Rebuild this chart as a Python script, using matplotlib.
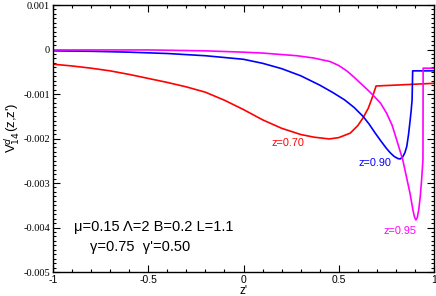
import matplotlib
matplotlib.use("Agg")
import matplotlib.pyplot as plt
from matplotlib.ticker import MultipleLocator, FuncFormatter

# z = 0.70 (red)
x_red = [-1.0, -0.9, -0.8, -0.7, -0.6, -0.5, -0.4, -0.3, -0.2, -0.1, 0.0, 0.1, 0.2, 0.3, 0.37, 0.45, 0.5,
         0.56, 0.6, 0.627, 0.655, 0.675, 0.696, 0.8, 0.9, 1.0]
y_red = [-0.00033, -0.00037, -0.00042, -0.00048, -0.00056, -0.00065, -0.00074, -0.00084, -0.00096, -0.00114,
         -0.00135, -0.00158, -0.00177, -0.00191, -0.00197, -0.00201, -0.00198, -0.00188, -0.00171, -0.00154,
         -0.00132, -0.00109, -0.00082, -0.0008, -0.00078, -0.00076]

# z = 0.90 (blue)
x_blue = [-1.0, -0.8, -0.6, -0.4, -0.2, 0.0, 0.1, 0.2, 0.3, 0.4, 0.47, 0.53, 0.58, 0.627, 0.66, 0.69, 0.72,
          0.75, 0.77, 0.79, 0.81, 0.822, 0.835, 0.847, 0.857, 0.866, 0.874, 0.88, 0.885, 0.888, 1.0]
y_blue = [-0.00003, -0.00004, -0.00006, -0.00009, -0.00014, -0.00022, -0.00031, -0.00043, -0.00059, -0.0008,
          -0.00097, -0.00113, -0.0013, -0.0015, -0.00168, -0.00187, -0.00205, -0.00222, -0.00232, -0.0024,
          -0.00245, -0.00246, -0.00242, -0.00232, -0.00218, -0.00192, -0.00162, -0.00138, -0.00113, -0.00048,
          -0.00048]

# z = 0.95 (magenta)
x_mag = [-1.0, -0.5, -0.2, 0.0, 0.1, 0.19, 0.28, 0.367, 0.454, 0.5, 0.542, 0.58, 0.612, 0.65, 0.681, 0.72,
         0.751, 0.78, 0.804, 0.836, 0.874, 0.89, 0.898, 0.905, 0.912, 0.92, 0.928, 0.935, 0.942, 0.943, 1.0]
y_mag = [-0.00001, -0.00001, -0.00003, -0.00006, -0.00008, -0.00011, -0.00014, -0.00019, -0.00027, -0.00036,
         -0.00048, -0.00062, -0.00075, -0.0009, -0.00103, -0.00121, -0.00143, -0.0017, -0.00203, -0.00248,
         -0.00323, -0.00362, -0.00377, -0.00383, -0.00378, -0.0036, -0.0033, -0.00293, -0.00248, -0.00042,
         -0.00042]

x_ticks = [-1, -0.5, 0, 0.5, 1]
y_ticks = [0.001, 0, -0.001, -0.002, -0.003, -0.004, -0.005]

fig = plt.figure(figsize=(4.36, 2.96), dpi=100)
ax = fig.add_axes([53/436, 1 - 272/296, (434-53)/436, (272-5)/296])

ax.plot(x_red, y_red, color="#ff0000", lw=1.2)
ax.plot(x_blue, y_blue, color="#0000ff", lw=1.2)
ax.plot(x_mag, y_mag, color="#ff00ff", lw=1.2)

ax.set_xlim(-1, 1)
ax.set_ylim(-0.005, 0.001)
ax.set_xticks(x_ticks)
ax.set_yticks(y_ticks)
ax.xaxis.set_minor_locator(MultipleLocator(0.1))
ax.yaxis.set_minor_locator(MultipleLocator(0.0001))
fmt = FuncFormatter(lambda v, p: "0" if abs(v) < 1e-12 else "%g" % v)
ax.xaxis.set_major_formatter(fmt)
ax.yaxis.set_major_formatter(fmt)
ax.tick_params(which="both", direction="in", top=True, right=True, width=0.8)
ax.tick_params(which="major", length=5, pad=2)
ax.tick_params(which="minor", length=2.5)
for lab in ax.get_yticklabels():
    lab.set_family("Liberation Serif")
    lab.set_fontsize(7.5)
for lab in ax.get_xticklabels():
    lab.set_family("Liberation Sans")
    lab.set_fontsize(7.5)
for s in ax.spines.values():
    s.set_linewidth(1.0)

ax.set_xlabel("z'", family="Liberation Sans", fontsize=8.5)
ax.xaxis.set_label_coords(0.5, -0.072)
ax.xaxis.label.set_va("center")
ax.set_ylabel(r"V$^{d}_{14}$(z,z')", family="Liberation Sans", fontsize=9.5)
ax.yaxis.set_label_coords(-0.108, 0.54)
ax.yaxis.label.set_va("center")

ax.text(0.147, -0.00211, "z=0.70", color="#ff0000", fontsize=7.8, family="Liberation Sans", ha="left", va="center")
ax.text(0.606, -0.00255, "z=0.90", color="#0000ff", fontsize=7.8, family="Liberation Sans", ha="left", va="center")
ax.text(0.734, -0.00408, "z=0.95", color="#ff00ff", fontsize=7.8, family="Liberation Sans", ha="left", va="center")
ax.text(-0.89, -0.00400, "\u03bc=0.15 \u039b=2 B=0.2 L=1.1", color="black", fontsize=10.5, family="Liberation Sans",
        ha="left", va="center")
ax.text(-0.805, -0.00444, "\u03b3=0.75  \u03b3'=0.50", color="black", fontsize=10.5, family="Liberation Sans",
        ha="left", va="center")

fig.savefig("out.png", dpi=100)
